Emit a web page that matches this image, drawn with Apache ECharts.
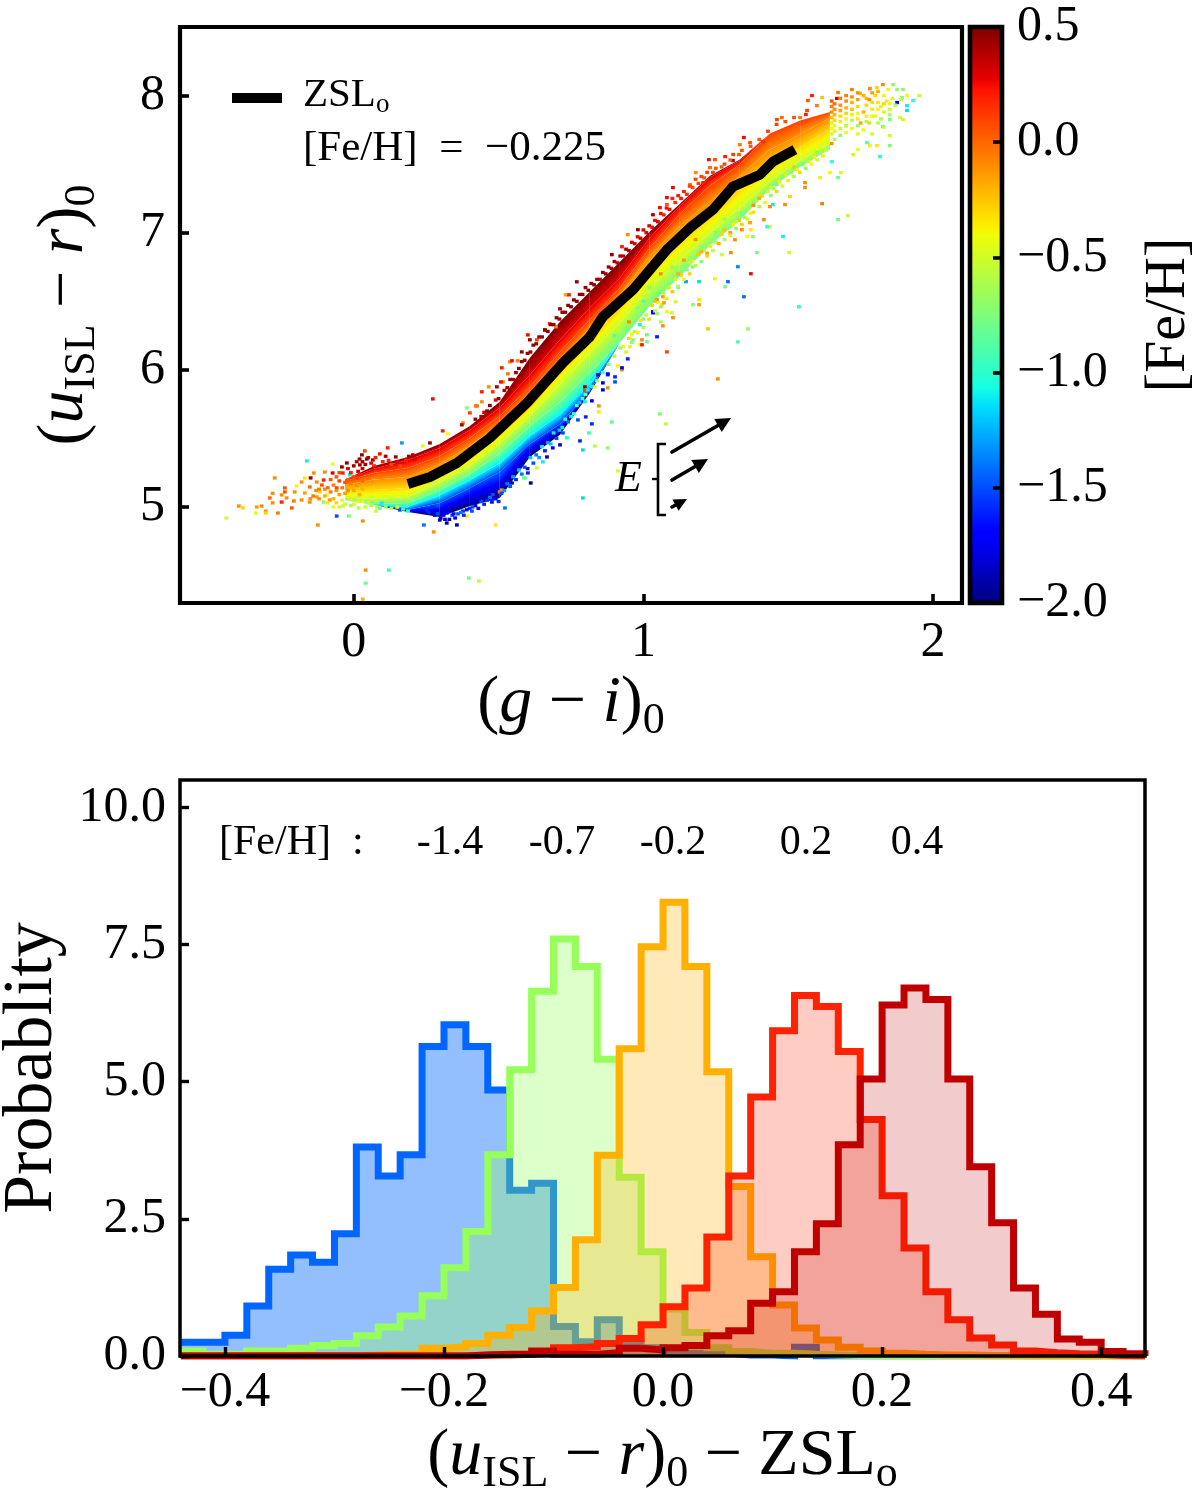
<!DOCTYPE html>
<html><head><meta charset="utf-8">
<style>html,body{margin:0;padding:0;background:#fff}#c{width:1200px;height:1491px}</style>
<script src="https://cdn.jsdelivr.net/npm/echarts@6/dist/echarts.min.js"></script>
</head><body><div id="c"></div>
<script>
// ---------- panel (a): colour-colour ridge ----------
const zslX=[.187,.263,.356,.470,.598,.722,.815,.860,.964,1.081,1.161,1.240,1.309,1.402,1.447,1.523];
const zslY=[5.168,5.219,5.321,5.504,5.759,6.051,6.241,6.387,6.584,6.876,7.036,7.168,7.336,7.423,7.518,7.606];
const bandX=[-.03,.073,.187,.297,.401,.504,.608,.712,.815,.919,1.022,1.126,1.230,1.333,1.437,1.541,1.644];
const bandLevels=[0.5,0.3,0.1,-0.1,-0.3,-0.5,-0.8,-1.1,-1.5,-2.0];
const isoP05=[5.2,5.3,5.365,5.46,5.591,5.767,6.088,6.35,6.57,6.789,7.008,7.212,7.416,7.533,7.723,7.818,7.88];
const isoP03=[5.2,5.28,5.343,5.431,5.562,5.723,5.964,6.219,6.453,6.672,6.964,7.197,7.402,7.526,7.723,7.818,7.88];
const isoP01=[5.19,5.25,5.285,5.372,5.504,5.664,5.876,6.132,6.365,6.599,6.891,7.139,7.343,7.497,7.723,7.818,7.88];
const isoM01=[5.16,5.2,5.219,5.314,5.445,5.606,5.825,6.066,6.307,6.548,6.832,7.051,7.227,7.416,7.606,7.716,7.84];
const isoM03=[5.12,5.124,5.139,5.241,5.365,5.533,5.737,5.986,6.212,6.453,6.73,6.942,7.117,7.321,7.489,7.621,7.752];
const isoM05=[5.07,5.058,5.073,5.182,5.299,5.467,5.664,5.898,6.124,6.345,6.6,6.805,7.0,7.185,7.38,7.53,7.65];
const isoM08=[5.05,5.022,5.029,5.124,5.241,5.394,5.591,5.767,5.986,6.2,6.465,6.685,6.91,7.09,7.32,7.48,7.61];
const isoM11=[5.05,5.015,5.0,5.088,5.197,5.321,5.518,5.679,5.898,6.2,6.465,6.685,6.91,7.09,7.32,7.48,7.61];
const isoM15=[5.05,5.015,4.978,5.029,5.139,5.255,5.46,5.606,5.847,6.2,6.465,6.685,6.91,7.09,7.32,7.48,7.61];
const isoM20=[5.05,5.015,4.964,4.927,5.007,5.066,5.365,5.526,5.832,6.2,6.465,6.685,6.91,7.09,7.32,7.48,7.61];
// individual cells: [g-i, u-r, [Fe/H]]
const cells=[[-.44,4.92,-.5],[-.397,5.007,-.1],[-.383,4.993,-.3],[-.338,4.956,-.45],[-.335,5.0,-.15],[-.318,5.007,-.1],[-.304,4.97,-.1],[-.304,4.956,-.3],[-.262,4.956,-.05],[-.273,5.212,-.1],[-.28,5.03,-.1],[-.29,5.066,0],[-.28,5.1,-.1],[-.238,5.139,.05],[-.238,5.11,.05],[-.249,5.088,-.1],[-.232,5.066,-.1],[-.249,5.036,.2],[-.214,4.993,.05],[-.207,5.044,-.05],[-.197,5.153,-.4],[-.204,5.11,-.1],[-.18,5.182,-.1],[-.169,5.212,-.35],[-.149,5.212,.45],[-.138,5.248,-.1],[-.162,5.336,-1.1],[-.073,5.314,-.4],[-.1,5.255,-.1],[-.104,5.197,.2],[-.128,5.182,-.1],[-.152,5.146,0],[-.169,5.102,-.15],[-.18,5.051,-.1],[-.152,5.036,-.1],[-.117,5.11,-.3],[-.093,5.088,-.4],[-.128,5.073,-.15],[-.104,5.036,-.7],[-.083,5.051,-.1],[-.059,5.139,.1],[-.041,5.292,.45],[-.073,5.248,.3],[-.024,5.321,.45],[-.014,5.234,-1.1],[-.038,5.248,.2],[.028,5.38,.45],[.038,5.409,.1],[.021,5.307,.45],[.045,5.35,.45],[.066,5.343,.4],[.09,5.387,.25],[.117,5.431,.2],[.145,5.365,.45],[.166,5.467,-1.3],[.204,5.38,.4],[.238,5.445,-.45],[.263,5.467,.4],[.273,5.788,.25],[.307,5.555,.2],[.39,5.723,-.75],[.377,5.613,-.1],[.442,5.84,.2],[.425,5.737,.05],[.511,6.015,.2],[.601,6.255,.25],[.58,6.131,.45],[.539,6.058,-.1],[.515,5.912,-.1],
[-.059,4.934,-1.5],[-.017,4.934,-.8],[.031,4.898,-.1],[-.124,4.869,-.1],[-.038,5.007,-.55],[.017,4.993,-.55],[.076,4.97,-.5],[.097,5.029,-1.1],[.159,4.978,-1.5],[.187,4.97,-1.0],[.242,4.869,-1.4],[.276,4.818,-.1],[.356,4.869,-1.9],[.39,4.934,-.35],[.49,4.869,-.35],[.522,4.993,-1.4],[.041,4.54,-.1],[.121,4.54,-.95],[.041,4.445,-.8],[.397,4.482,-.8],[.432,4.46,-.55],[.031,4.328,-.2],
[.297,4.905,-1.9],[.321,4.883,-1.95],[.321,4.956,-1.7],[.252,4.978,-1.6],[.273,5.0,-1.6],[.377,4.97,-1.6],[.408,4.97,-1.5],[.477,5.036,-1.7],[.504,5.11,-.1],[.452,5.102,-1.7],[.546,5.175,-1.9],[.601,5.248,-1.6],[.611,5.175,-1.95],[.591,5.212,-.9],[.653,5.329,-1.1],[.667,5.365,-1.9],[.687,5.431,-1.7],
[.791,5.066,-1.15],[.912,5.263,-.5],[1.057,5.679,-.75],[1.078,5.606,-.55],[.891,5.62,-.85],[.877,5.431,-.7],[.832,5.445,-.55],[.791,5.416,-1.15],[.781,5.482,-1.6],[.812,5.54,-.95],[.822,5.606,-1.6],[.846,5.737,-.1],[.846,5.694,-.35],[.801,5.657,-1.6],[.774,5.635,-1.5],[.822,5.774,-1.7],[.798,5.767,-1.1],[.736,5.504,-1.05],[.712,5.453,-1.8],[.632,5.285,-.5],[.587,5.212,-.8],[.511,5.124,-.1],[.477,5.051,-1.6],[.722,5.54,-1.5],[.86,5.905,-1.8],[.877,5.869,-.1],[.902,5.912,-1.5],[.946,6.08,-1.6],[.912,6.029,-.35],[.926,6.0,-.1],[.902,5.949,-1.6],[.843,5.964,-1.8],[.877,5.964,-1.6],[.86,5.854,-1.8],[.832,5.876,-.35],[.798,5.876,.45],[.798,5.85,.1],[.808,5.854,-1.1],[1.047,6.241,-1.6],[1.081,6.131,.1],[1.012,6.205,-.75],[.988,6.183,-.4],[.953,6.168,-.5],[1.012,6.256,-.8],[.964,6.219,-.7],[.988,6.329,-1.1],[1.033,6.424,-1.7],[1.06,6.35,-.65],[1.064,6.474,-.35],[1.047,6.511,-.1],[1.067,6.533,-.15],
[.546,6.066,.25],[.566,6.066,-.05],[.532,5.971,-.05],[.508,5.912,.25],[.494,5.876,.4],[.466,5.876,-.1],[.48,5.84,.15],[.442,5.767,-.1],[.421,5.737,-.05],[.401,5.686,.1],[.373,5.599,.4],[.325,5.533,-.4],[.677,6.336,.2],[.732,6.547,-.15],[.743,6.547,.2],[.77,6.642,.45],[.712,6.445,.45],[.66,6.292,.45],[.698,6.314,-.1],[.608,6.219,.45],[.632,6.219,.1],
[1.102,7.329,.25],[1.081,7.256,.25],[1.081,7.205,.05],[1.181,7.438,-.1],[1.226,7.533,.25],[1.282,7.555,.2],[1.161,7.351,-.05],[.946,6.986,-.1],[.891,6.84,.45],[.981,7.022,.45],[1.033,7.131,.4],[1.057,7.183,.25],[.926,6.898,.2],[1.206,7.365,.2],[1.23,7.475,0],[1.247,7.533,.05],[1.309,7.526,.4],[1.333,7.642,-.05],[1.413,7.664,.15],[1.368,7.657,.05],
[.926,6.015,-1.8],[.877,5.971,-1.7],[.995,6.183,.2],[1.067,6.321,-.1],[1.257,5.934,-.1],[1.223,6.299,-.25],[1.361,6.299,-.7],[1.326,6.204,-.9],[1.537,6.46,-1.0],[1.347,6.533,-1.4],[1.371,6.701,.25],[1.292,6.643,-1.4],[1.326,6.752,-1.35],[1.282,6.606,-.8],[1.247,6.664,-.45],[1.192,6.643,-1.15],[1.147,6.643,-1.3],[1.171,6.475,-.7],[1.192,6.475,-.15],[1.192,6.511,-.35],[1.112,6.496,-.5],[1.098,6.416,-.5],[1.081,6.424,-.4],[1.102,6.38,-.1],[1.071,6.489,-.15],[1.033,6.416,-1.7],[1.047,6.409,-.7],[.995,6.219,-.1],[1.271,6.84,-.5],[1.302,6.855,-.1],[1.392,6.855,-.75],[1.503,6.855,-.5],[1.482,6.972,-1.1],[1.437,7.044,-.35],[1.427,7.044,-1.0],[1.416,7.095,-.1],[1.371,7.022,-.35],[1.378,6.972,-.7],[1.358,6.972,-.4],[1.316,6.949,-.1],[1.34,7.022,-.1],[1.368,7.073,-.15],[1.437,7.19,-.1],[1.447,7.205,-1.1],[1.489,7.205,-.1],[1.506,7.263,-.3],[1.617,7.212,-.05],[1.672,7.095,-.8],
[1.876,7.949,-1.7],[1.91,7.927,-1.1],[1.91,7.891,-1.15],[1.931,7.964,-1.0],[1.952,8.0,-.5],[1.862,8.08,-.7],[1.827,8.08,-.1],[1.806,8.058,-.3],[1.782,8.051,-.1],[1.896,8.044,-.7],[1.876,8.044,-.7],[1.845,8.044,-.4],[1.91,8.0,-.4],[1.893,7.986,-.7],[1.896,7.825,-.5],[1.886,7.84,-.5],[1.851,7.825,-.75],[1.851,7.708,-.5],[1.851,7.635,-.75],[1.817,7.555,-1.05],[1.827,7.774,-.95],[1.806,7.635,-.35],[1.782,7.635,-.35],[1.772,7.657,-.85],[1.741,7.606,-.4],[1.724,7.569,-.5],[1.682,7.438,-.5],[1.651,7.518,-1.0],[1.582,8.0,.2],[1.568,7.964,.05],[1.617,7.986,-.25],[1.668,7.979,.3],[1.72,8.044,-.05],[1.672,8.022,-.05],[1.748,8.015,-.2],[1.599,7.927,-.05],[1.565,7.891,.1],[1.561,7.862,.2],[1.478,7.84,0],[1.461,7.825,.1],[1.347,7.694,.25],[1.541,7.84,-.05],[1.706,7.125,-.55],[1.558,7.329,-.1],[1.558,7.365,-.1],[1.61,7.402,-.35],[1.672,7.402,-.8],[1.644,7.438,-.4],
[1.76,8.0,-.2],[1.78,7.97,-.1],[1.8,8.0,-.3],[1.77,7.93,-.3],[1.79,7.9,-.35],[1.81,7.95,-.35],[1.83,8.0,-.4],[1.82,7.92,-.45],[1.84,7.96,-.35],[1.86,7.98,-.5],[1.85,7.9,-.5],[1.8,7.85,-.4],[1.78,7.8,-.3],[1.82,7.83,-.6],[1.76,7.75,-.4],[1.79,7.72,-.5],[1.87,7.93,-.6],[1.89,7.97,-.55],[1.76,7.88,-.2],[1.83,7.77,-.55],
[1.02,6.6,-.75],[1.06,6.7,-.1],[1.1,6.75,-.7],[1.14,6.8,-.15],[1.12,6.6,-.75],[1.17,6.75,-.8],[1.2,6.9,-.7],[1.18,6.95,-.1],[1.25,7.0,-.75],[1.22,6.85,-.15],[1.28,7.1,-.7],[1.3,7.0,-.15],[1.34,7.15,-.75],[1.38,7.2,-.1],[1.42,7.3,-.7],[1.46,7.35,-.8],[1.5,7.45,-.6],[1.55,7.5,-.75],[1.6,7.6,-.8],[1.65,7.65,-.1],[1.7,7.78,-.7],[1.75,7.8,-.15],[.95,6.35,-.1],[.98,6.45,-.75],[1.0,6.5,-.85],[.9,6.25,-.9]];
const cellsLeftCloud=[[-.02,5.28,.3],[0,5.3,.45],[.01,5.33,.4],[.02,5.35,.45],[.03,5.33,.45],[.04,5.31,.45],[.05,5.36,.4],[.06,5.32,.3],[.07,5.3,.2],[.075,5.36,.2],[.1,5.33,.2],[.11,5.37,.4],[.12,5.34,.2],[.13,5.31,.1],[.15,5.33,.3],[.16,5.3,.1],[.18,5.34,.2],[.19,5.37,.4],[.21,5.35,.3],[-.01,5.25,.2],[.0,5.22,.1],[.015,5.26,.3],[.03,5.28,.35],[-.05,5.25,.1],[-.06,5.22,.05],[-.08,5.2,.05],[-.07,5.16,-.05],[-.09,5.14,0],[-.11,5.16,.05],[-.13,5.12,-.1],[-.14,5.08,-.05],[-.15,5.06,-.1],[-.1,5.08,-.2],[-.12,5.06,-.1],[-.09,5.03,-.35],[-.07,5.06,-.2],[-.06,5.03,-.3],[-.05,5.09,-.15],[-.04,5.05,-.4],[-.03,5.02,-.5],[-.02,5.12,-.1],[-.01,5.06,-.35],[.0,5.02,-.45],[.01,5.16,-.1],[.02,5.09,-.2],[.03,5.04,-.4],[.04,5.0,-.5],[.05,5.03,-.55],[.06,5.01,-.6],[.08,5.0,-.55],[.09,4.99,-.8],[.11,5.0,-.7],[.13,4.99,-.55],[.15,5.0,-.4],[.17,4.985,-.9],
[-.03,5.18,.05],[-.04,5.14,-.05],[-.05,5.19,.1],[-.02,5.2,.05],[-.01,5.17,-.05],[-.03,5.1,-.15],[.0,5.12,-.15],[.01,5.21,.1],[.02,5.24,.2],[.03,5.19,0],[.03,5.13,-.2],[-.06,5.12,-.1],[-.08,5.11,-.05],[-.1,5.13,-.1],[-.12,5.13,-.05],[-.01,5.01,-.6],[.015,5.04,-.45],[-.05,5.0,-.5],[-.07,5.0,-.45]];
const cellsBlueEdge=[[.26,4.96,-1.6],[.28,4.94,-1.8],[.3,4.92,-1.9],[.31,4.94,-1.7],[.33,4.91,-1.9],[.34,4.94,-1.5],[.35,4.92,-1.7],[.36,4.95,-1.5],[.38,4.94,-1.6],[.39,4.98,-1.7],[.41,5.0,-1.5],[.43,4.99,-1.7],[.45,5.02,-1.6],[.47,5.07,-1.4],[.49,5.06,-1.7],[.5,5.04,-1.6],[.52,5.12,-1.3],[.54,5.15,-1.5],[.56,5.2,-1.6],[.58,5.24,-1.4],[.6,5.28,-1.7],[.62,5.32,-1.5],[.64,5.36,-1.3],[.66,5.41,-1.6],[.68,5.46,-1.2],[.7,5.5,-1.5],[.72,5.58,-1.1],[.74,5.62,-1.4],[.76,5.68,-.9],[.78,5.76,-1.2],[.8,5.82,-.8],[.82,5.88,-1.1],[.84,5.92,-.7],[.86,5.98,-.9],[.88,6.04,-.8],[.9,6.1,-.6],[.92,6.16,-.75],
[.27,4.97,-1.7],[.29,4.95,-1.5],[.315,4.91,-1.8],[.345,4.95,-1.7],[.37,4.96,-1.4],[.4,4.99,-1.6],[.42,5.01,-1.7],[.44,5.04,-1.5],[.46,5.05,-1.6],[.48,5.09,-1.5],[.51,5.1,-1.5],[.53,5.17,-1.4],[.55,5.22,-1.3],[.57,5.27,-1.2],[.59,5.29,-1.5],[.61,5.36,-1.2],[.63,5.38,-1.4],[.65,5.44,-1.1],[.67,5.47,-1.3],[.69,5.54,-1.1],[.71,5.56,-1.2],[.73,5.64,-1.0],[.75,5.66,-1.1],[.77,5.74,-.85],[.79,5.79,-.9]];
const cellsTopEdge=[[.42,5.64,.45],[.45,5.69,.3],[.47,5.74,.45],[.49,5.78,.3],[.52,5.85,.4],[.54,5.93,.45],[.56,5.98,.45],[.58,6.06,.45],[.6,6.12,.45],[.62,6.18,.45],[.64,6.24,.45],[.66,6.29,.45],[.68,6.33,.45],[.7,6.38,.45],[.72,6.42,.45],[.74,6.47,.45],[.76,6.51,.45],[.78,6.55,.45],[.8,6.6,.45],[.82,6.63,.45],[.84,6.66,.45],[.86,6.71,.45],[.88,6.75,.45],[.9,6.79,.4],[.92,6.83,.4],[.94,6.88,.4],[.96,6.93,.35],[.98,6.97,.3],[1,7.02,.3],[1.02,7.05,.3],[1.04,7.09,.25],[1.06,7.14,.25],[1.08,7.18,.25],[1.1,7.25,.2],[1.12,7.27,.2],[1.14,7.3,.2],[1.16,7.34,.1],[1.18,7.39,.1],[1.2,7.41,.1],[1.22,7.44,.1],[1.25,7.47,.05],[1.28,7.5,.1],[1.31,7.57,.1],[1.34,7.6,.05],[1.37,7.63,.05],[1.4,7.68,.05],[1.43,7.74,.1],[1.46,7.79,.1],[1.49,7.81,.05],[1.52,7.84,.05],
[.44,5.66,.4],[.46,5.7,.45],[.5,5.79,.45],[.53,5.87,.45],[.55,5.93,.4],[.57,6.01,.45],[.59,6.07,.45],[.61,6.13,.45],[.63,6.19,.45],[.65,6.24,.45],[.67,6.28,.45],[.69,6.33,.45],[.71,6.37,.45],[.73,6.42,.45],[.75,6.46,.45],[.77,6.5,.45],[.79,6.55,.45],[.81,6.58,.45],[.83,6.62,.45],[.85,6.66,.4],[.87,6.7,.45],[.89,6.74,.4],[.91,6.78,.4],[.93,6.83,.35],[.95,6.87,.4],[.97,6.92,.3],[.99,6.96,.35],[1.01,7.0,.3],[1.03,7.04,.25],[1.05,7.08,.3],[1.07,7.13,.2],[1.09,7.17,.25],[1.11,7.22,.15],[1.13,7.25,.2],[1.15,7.28,.15],[1.17,7.33,.1],[1.19,7.36,.1],[1.21,7.4,.05],[1.24,7.44,.1],[1.27,7.48,.05],[1.3,7.53,.05],[1.33,7.57,.05]];
const cellsRightEnd=[[1.65,7.96,.05],[1.65,7.92,-.05],[1.65,7.88,-.1],[1.65,7.84,-.25],[1.65,7.8,-.35],[1.65,7.76,-.4],[1.65,7.72,-.5],[1.66,7.94,0],[1.66,7.9,-.1],[1.66,7.86,-.2],[1.66,7.82,-.3],[1.66,7.78,-.45],[1.66,7.74,-.35],[1.66,7.68,-.6],[1.68,7.98,-.05],[1.68,7.93,-.1],[1.68,7.89,-.15],[1.68,7.85,-.3],[1.68,7.81,-.35],[1.68,7.76,-.5],[1.68,7.71,-.7],[1.7,8.0,-.05],[1.7,7.96,-.1],[1.7,7.91,-.2],[1.7,7.87,-.3],[1.7,7.83,-.4],[1.7,7.78,-.55],[1.7,7.73,-.4],[1.72,7.99,-.1],[1.72,7.95,-.2],[1.72,7.9,-.25],[1.72,7.86,-.35],[1.72,7.82,-.6],[1.72,7.76,-.4],[1.74,8.02,-.1],[1.74,7.97,-.15],[1.74,7.92,-.3],[1.74,7.87,-.4],[1.74,7.83,-.35],[1.74,7.78,-.7],[1.74,7.72,-.45],[1.77,7.98,-.2],[1.77,7.85,-.35],[1.77,7.81,-.6],[1.79,8.02,-.15],[1.79,7.95,-.3],[1.79,7.85,-.45],[1.81,8.03,-.2],[1.81,7.9,-.4],[1.81,7.8,-.6],[1.83,7.88,-.5],[1.83,7.94,-.3],[1.85,7.94,-.45],[1.85,7.86,-.6]];
const cellsLowFringe=[[.93,6.17,-.4],[.95,6.23,-.3],[.97,6.28,-.6],[.99,6.36,-.35],[1.01,6.4,-.55],[1.03,6.47,-.3],[1.05,6.49,-.45],[1.07,6.56,-.6],[1.09,6.6,-.35],[1.11,6.66,-.5],[1.13,6.69,-.3],[1.15,6.73,-.7],[1.17,6.79,-.4],[1.19,6.84,-.25],[1.21,6.87,-.6],[1.23,6.9,-.35],[1.25,6.93,-.5],[1.27,6.99,-.3],[1.29,7.03,-.7],[1.31,7.06,-.4],[1.33,7.09,-.25],[1.35,7.11,-.6],[1.37,7.14,-.4],[1.39,7.23,-.6],[1.41,7.27,-.3],[1.43,7.3,-.5],[1.45,7.32,-.65],[1.47,7.37,-.35],[1.49,7.42,-.5],[1.51,7.44,-.7],[1.53,7.46,-.4],[1.57,7.52,-.5],[1.59,7.55,-.35],[1.61,7.58,-.65],[1.63,7.6,-.5],
[.94,6.13,-.5],[.96,6.2,-.7],[.98,6.27,-.35],[1.0,6.31,-.6],[1.02,6.37,-.3],[1.04,6.43,-.5],[1.06,6.46,-.7],[1.08,6.52,-.35],[1.1,6.57,-.25],[1.12,6.61,-.6],[1.14,6.66,-.4],[1.16,6.7,-.3],[1.18,6.76,-.55],[1.2,6.79,-.75],[1.22,6.83,-.3],[1.24,6.87,-.55],[1.26,6.92,-.2],[1.28,6.95,-.6],[1.3,6.98,-.35],[1.32,7.03,-.7],[1.34,7.06,-.3],[1.36,7.1,-.5],[1.38,7.15,-.3],[1.4,7.19,-.6],[1.42,7.22,-.4],[1.44,7.27,-.7],[1.46,7.3,-.3],[1.48,7.34,-.5],[1.5,7.38,-.35],[1.52,7.41,-.6],[1.54,7.44,-.3],[1.56,7.47,-.7],[1.58,7.5,-.4],[1.6,7.53,-.5],[1.62,7.56,-.35],
[.96,6.26,-.45],[1.0,6.37,-.7],[1.04,6.5,-.25],[1.08,6.6,-.65],[1.12,6.7,-.2],[1.16,6.78,-.55],[1.2,6.86,-.2],[1.24,6.94,-.7],[1.28,7.02,-.25],[1.32,7.08,-.55],[1.36,7.17,-.65],[1.4,7.25,-.2],[1.44,7.33,-.45],[1.48,7.41,-.7],[1.52,7.48,-.25],[1.56,7.54,-.55],[1.6,7.61,-.4]];
const topXTicks=[0,1,2];
const topYTicks=[5,6,7,8];
const cbarTicks=[-2,-1.5,-1,-0.5,0,0.5];
const cbarInnerTicks=[-1.5,-1,-0.5,0];
// ---------- panel (b): histograms ----------
const binEdges=[-.44,-.42,-.40,-.38,-.36,-.34,-.32,-.30,-.28,-.26,-.24,-.22,-.20,-.18,-.16,-.14,-.12,-.10,-.08,-.06,-.04,-.02,0,.02,.04,.06,.08,.10,.12,.14,.16,.18,.20,.22,.24,.26,.28,.30,.32,.34,.36,.38,.40,.42,.44];
const histM14=[.25,.25,.38,.91,1.58,1.84,1.71,2.23,3.81,3.28,3.67,5.64,6.04,5.64,4.85,3.02,3.15,.54,.26,.66,.25,.15,.1,.05,.05,.02,.02,0,.16,0,0,0,0,0,0,0,0,0,0,0,0,0,0,0];
const histM07=[.09,.03,.03,.09,.09,.14,.19,.23,.37,.53,.73,1.10,1.61,2.27,3.67,5.22,6.65,7.6,7.1,5.41,3.26,1.9,.85,.43,.15,.08,.05,.05,.03,.02,.01,0,0,0,0,0,0,0,0,0,0,0,0,0];
const histM02=[0,0,0,0,0,0,0,0,.02,.03,.03,.14,.17,.23,.38,.52,.82,1.25,2.12,3.66,5.6,7.46,8.27,7.1,5.18,3.09,1.81,.93,.51,.29,.16,.09,.05,.03,.02,.02,.01,.01,0,0,0,0,0,0];
const histP02=[0,0,0,0,0,0,0,0,0,0,0,0,0,.02,.02,.03,.05,.15,.17,.23,.32,.57,.9,1.24,2.17,3.28,4.72,5.93,6.57,6.37,5.55,4.31,2.92,1.97,1.17,.66,.33,.2,.09,.06,.04,.03,.01,0];
const histP04=[0,0,0,0,0,0,0,0,0,0,0,0,0,.02,.03,.03,.09,.03,.03,.06,.14,.11,.15,.19,.37,.46,.96,1.17,1.9,2.41,3.85,5.05,6.4,6.71,6.5,5.05,3.45,2.43,1.24,.76,.31,.25,.08,.04];
const botXTicks=[-0.4,-0.2,0,0.2,0.4];
const botYTicks=[0,2.5,5,7.5,10];
const fehCaption='[Fe/H]  :';
const fehLabels=['-1.4','-0.7','-0.2','0.2','0.4'];

const FONT='"Liberation Serif"';
const C=echarts.init(document.getElementById('c'),null,{renderer:'canvas'});
const jetStops=[[0,'#00007f'],[.11,'#0000ff'],[.125,'#0000ff'],[.34,'#00dcff'],[.375,'#16ffe1'],[.64,'#f1fc06'],[.66,'#ffea00'],[.89,'#ff1300'],[.91,'#e80000'],[1,'#7f0000']];
function hex(s){return [1,3,5].map(i=>parseInt(s.substr(i,2),16));}
function jet(feh){
  const t=Math.max(0,Math.min(1,(feh+2)/2.5));
  for(let i=1;i<jetStops.length;i++){
    if(t<=jetStops[i][0]){
      const a=jetStops[i-1],b=jetStops[i],k=(t-a[0])/(b[0]-a[0]||1),p=hex(a[1]),q=hex(b[1]);
      return 'rgb('+p.map((v,j)=>Math.round(v+(q[j]-v)*k)).join(',')+')';
    }
  }
  return jetStops[jetStops.length-1][1];
}
const isoAll=[isoP05,isoP03,isoP01,isoM01,isoM03,isoM05,isoM08,isoM11,isoM15,isoM20];
const bandQuads=[];
for(let i=0;i<bandX.length-1;i++)for(let j=0;j<isoAll.length-1;j++){
  if(Math.abs(isoAll[j][i]-isoAll[j+1][i])<.001&&Math.abs(isoAll[j][i+1]-isoAll[j+1][i+1])<.001)continue;
  bandQuads.push([bandX[i],bandX[i+1],isoAll[j][i],isoAll[j][i+1],isoAll[j+1][i],isoAll[j+1][i+1],bandLevels[j],bandLevels[j+1]]);
}
function renderQuad(p,api){
  const x0=api.value(0),x1=api.value(1);
  const a=api.coord([x0,api.value(2)]),b=api.coord([x1,api.value(3)]),c=api.coord([x0,api.value(4)]),d=api.coord([x1,api.value(5)]);
  const f0=api.value(6),f1=api.value(7);
  const mt=[(a[0]+b[0])/2,(a[1]+b[1])/2],mb=[(c[0]+d[0])/2,(c[1]+d[1])/2];
  let nx=-(b[1]-a[1]+d[1]-c[1]),ny=(b[0]-a[0]+d[0]-c[0]);
  const L=Math.hypot(nx,ny)||1;nx/=L;ny/=L;
  const dist=(mb[0]-mt[0])*nx+(mb[1]-mt[1])*ny;
  const N=5,stops=[];
  for(let k=0;k<=N;k++){stops.push({offset:k/N,color:jet(f0+(f1-f0)*k/N)});}
  return {type:'polygon',shape:{points:[a,b,d,c]},style:{fill:new echarts.graphic.LinearGradient(mt[0],mt[1],mt[0]+nx*dist,mt[1]+ny*dist,stops,true)}};
}
function mathRich(sz){
  const sub=Math.round(sz*.66);
  return {
    m:{fontFamily:FONT,fontSize:sz,lineHeight:sz,verticalAlign:'top',color:'#000'},
    i:{fontFamily:FONT,fontStyle:'italic',fontSize:sz,lineHeight:sz,verticalAlign:'top',color:'#000'},
    s:{fontFamily:FONT,fontSize:sub,lineHeight:sub,verticalAlign:'top',padding:[Math.round(sz*.42),0,0,0],color:'#000'}
  };
}
const minus=v=>String(v).replace('-','\u2212');
const f1=v=>minus(Number(v).toFixed(1));
function axisBase(extra){
  return Object.assign({type:'value',z:50,splitLine:{show:false},
    axisLine:{show:false,onZero:false}},extra);
}
const tick=(vals,w)=>({show:true,inside:true,length:9,customValues:vals,lineStyle:{color:'#000',width:w}});
const lab=(vals,m,fmt)=>({show:true,fontFamily:FONT,fontSize:50,color:'#000',margin:m,customValues:vals,formatter:fmt,hideOverlap:false});
function hist(vals,color,fill,z){
  const d=vals.map((v,i)=>[binEdges[i],v]);d.push([binEdges[vals.length],0]);
  return {type:'line',z:z,xAxisIndex:2,yAxisIndex:2,data:d,step:'end',showSymbol:false,symbol:'none',
    lineStyle:{color:color,width:7,join:'miter',cap:'butt'},areaStyle:{color:fill,opacity:1,origin:'start'},itemStyle:{color:color},clip:true,silent:true};
}
function arrow(x0,y0,x1,y1,head){
  const dx=x1-x0,dy=y1-y0,L=Math.hypot(dx,dy),ux=dx/L,uy=dy/L,px=-uy,py=ux,w=head*.5;
  return [
    {type:'line',shape:{x1:x0,y1:y0,x2:x1-ux*head*.6,y2:y1-uy*head*.6},style:{stroke:'#000',lineWidth:3.6,lineCap:'round'},z:60,silent:true},
    {type:'polygon',shape:{points:[[x1,y1],[x1-ux*head+px*w,y1-uy*head+py*w],[x1-ux*head-px*w,y1-uy*head-py*w]]},style:{fill:'#000'},z:60,silent:true}
  ];
}
function frame(x,y,w,h,lw){return {type:'rect',shape:{x,y,width:w,height:h},style:{fill:'none',stroke:'#000',lineWidth:lw},z:70,silent:true};}
function label(x,y,text,size,align){return {type:'text',style:{x,y,text,fontFamily:FONT,fontSize:size,fill:'#000',align:align||'center',verticalAlign:'middle'},z:60,silent:true};}

const option={
  animation:false,
  backgroundColor:'#fff',
  grid:[
    {left:180,top:27,width:782,height:576,containLabel:false,outerBoundsMode:'none'},
    {left:970,top:27,width:32,height:576,containLabel:false,outerBoundsMode:'none'},
    {left:180,top:780,width:965,height:576,containLabel:false,outerBoundsMode:'none'}
  ],
  xAxis:[
    axisBase({gridIndex:0,min:-0.6,max:2.1,position:'bottom',axisTick:tick(topXTicks,3.6),axisLabel:lab(topXTicks,15,v=>String(v)),
      name:'{m|(}{i|g}{m| \u2212 }{i|i}{m|)}{s|0}',nameLocation:'middle',nameGap:68,nameTextStyle:{rich:mathRich(66)}}),
    {type:'value',gridIndex:1,min:0,max:1,show:false},
    axisBase({gridIndex:2,min:-0.441,max:0.44,position:'bottom',axisTick:tick(botXTicks,3.4),axisLabel:lab(botXTicks,12,f1),
      name:'{m|(}{i|u}{s|ISL}{m| \u2212 }{i|r}{m|)}{s|0}{m| \u2212 ZSL}{s|o}',nameLocation:'middle',nameGap:68,nameTextStyle:{rich:mathRich(66)}})
  ],
  yAxis:[
    axisBase({gridIndex:0,min:4.3,max:8.5,position:'left',axisTick:tick(topYTicks,3.6),axisLabel:lab(topYTicks,15,v=>String(v)),
      name:'{m|(}{i|u}{s|ISL}{m| \u2212 }{i|r}{m|)}{s|0}',nameLocation:'middle',nameRotate:90,nameGap:82,nameTextStyle:{rich:mathRich(66)}}),
    axisBase({gridIndex:1,min:-2,max:0.5,position:'right',axisTick:tick(cbarInnerTicks,3.6),axisLabel:lab(cbarTicks,15,f1),
      name:'[Fe/H]',nameLocation:'middle',nameRotate:90,nameGap:138,nameTextStyle:{fontFamily:FONT,fontSize:58,color:'#000'}}),
    axisBase({gridIndex:2,min:0,max:10.5,position:'left',axisTick:tick(botYTicks,3.4),axisLabel:lab(botYTicks,14,v=>Number(v).toFixed(1)),
      name:'Probablity',nameLocation:'middle',nameRotate:90,nameGap:98,nameTextStyle:{fontFamily:FONT,fontSize:70,color:'#000'}})
  ],
  series:[
    {type:'custom',xAxisIndex:0,yAxisIndex:0,data:bandQuads,renderItem:renderQuad,encode:{x:[0,1],y:[2,3,4,5]},clip:true,silent:true},
    {type:'scatter',xAxisIndex:0,yAxisIndex:0,data:[...cells,...cellsLeftCloud,...cellsBlueEdge,...cellsTopEdge,...cellsRightEnd,...cellsLowFringe],symbol:'rect',symbolSize:[3.8,3.3],itemStyle:{color:p=>jet(p.data[2]),opacity:1},clip:true,silent:true},
    {type:'line',xAxisIndex:0,yAxisIndex:0,data:zslX.map((x,i)=>[x,zslY[i]]),showSymbol:false,symbol:'none',z:5,lineStyle:{color:'#000',width:10,cap:'butt',join:'round'},silent:true},
    {type:'custom',xAxisIndex:1,yAxisIndex:1,data:[[0,1,cbarTicks[0],cbarTicks[cbarTicks.length-1]]],encode:{x:[0,1],y:[2,3]},silent:true,
      renderItem:(p,api)=>{
        const a=api.coord([0,api.value(3)]),b=api.coord([1,api.value(2)]);
        return {type:'rect',shape:{x:a[0],y:a[1],width:b[0]-a[0],height:b[1]-a[1]},
          style:{fill:new echarts.graphic.LinearGradient(0,1,0,0,jetStops.map(s=>({offset:s[0],color:s[1]})))}};
      }},
    hist(histM14,'#0066ff','rgba(0,102,255,0.42)',2),
    hist(histM07,'#96ff5a','rgba(150,255,90,0.32)',3),
    hist(histM02,'#ffb000','rgba(255,176,0,0.28)',4),
    hist(histP02,'#ff2200','rgba(255,34,0,0.23)',5),
    hist(histP04,'#c00000','rgba(192,0,0,0.2)',6)
  ],
  graphic:{elements:[
    frame(180,27,782,576,4.2),
    frame(970,27,32,576,4.6),
    frame(180,780,965,576,3.5),
    {type:'rect',shape:{x:232,y:93,width:50,height:10},style:{fill:'#000'},z:60,silent:true},
    {type:'text',style:{x:303,y:95,text:'{m|ZSL}{s|o}',rich:mathRich(41),align:'left',verticalAlign:'middle'},z:60,silent:true},
    {type:'text',style:{x:303,y:149,text:'{m|[Fe/H]  =  \u22120.225}',rich:mathRich(43),align:'left',verticalAlign:'middle'},z:60,silent:true},
    {type:'text',style:{x:615,y:479,text:'{i|E}',rich:mathRich(44),align:'left',verticalAlign:'middle'},z:60,silent:true},
    {type:'polyline',shape:{points:[[666,444],[658,444],[658,515],[666,515]]},style:{fill:'none',stroke:'#000',lineWidth:2.6},z:60,silent:true},
    {type:'line',shape:{x1:652,y1:479,x2:658,y2:479},style:{stroke:'#000',lineWidth:2.4},z:60,silent:true},
    ...arrow(672,452,731,418,15),
    ...arrow(672,480,708,459,15),
    ...arrow(672,507,687,499,13),
    label(219,843,fehCaption,42,'left'),
    label(450,843,fehLabels[0],42),
    label(562,843,fehLabels[1],42),
    label(673,843,fehLabels[2],42),
    label(806,843,fehLabels[3],42),
    label(917,843,fehLabels[4],42)
  ]}
};
C.setOption(option);
</script></body></html>
